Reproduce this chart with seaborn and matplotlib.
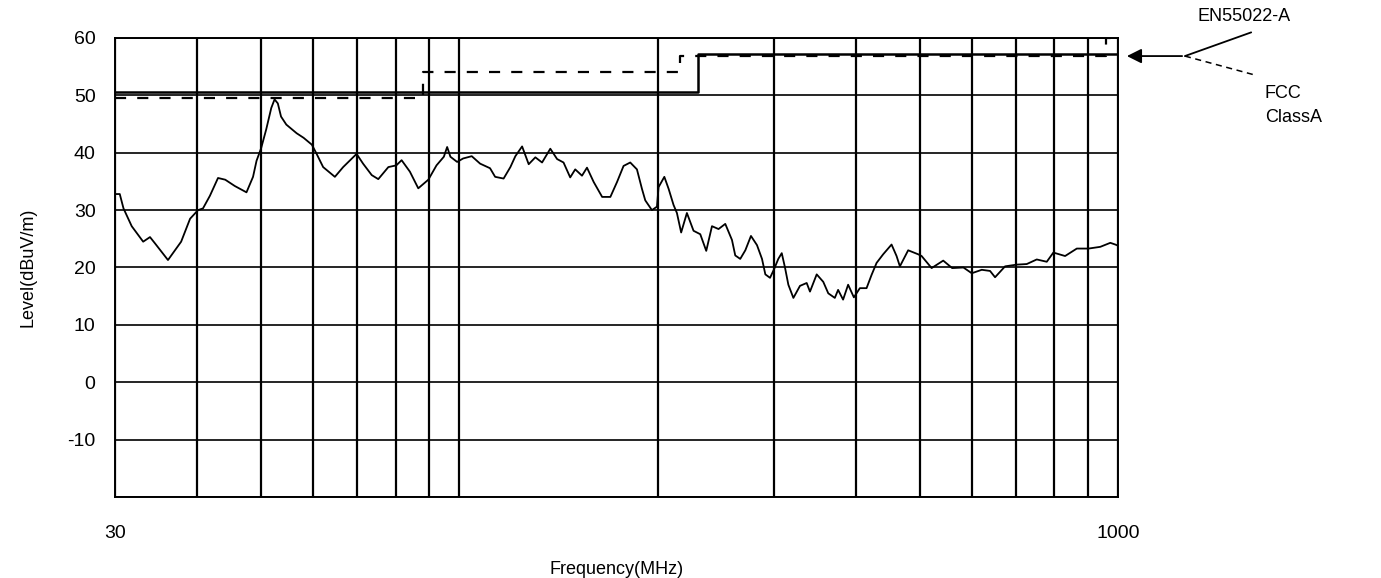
# ============================================================
# Radiated emission scan vs EN55022-A / FCC Class A limits
# ============================================================

import numpy as np
import pandas as pd
import matplotlib
matplotlib.use("Agg")
import matplotlib.pyplot as plt
from matplotlib.lines import Line2D
from matplotlib.ticker import FixedLocator, NullFormatter
import seaborn as sns

# ── 1. Data ──────────────────────────────────────────────────
# Measured trace (MHz, dBuV/m)
scan_freq = [
    30.1, 30.5, 30.9, 31.8, 33.1, 33.9, 34.5, 36.1, 37.8, 39.0,
    40.1, 40.8, 41.8, 43.0, 44.1, 45.6, 47.5, 48.6, 49.2, 50.0,
    50.9, 51.8, 52.4, 53.0, 53.6, 54.6, 56.6, 58.0, 59.7, 60.7,
    62.1, 64.7, 66.6, 69.8, 71.4, 73.6, 75.3, 78.0, 80.2, 81.7,
    84.1, 86.6, 89.7, 92.3, 94.7, 95.8, 96.9, 99.2, 101.3, 104.4,
    107.5, 111.3, 113.3, 116.7, 119.5, 121.6, 124.5, 127.4, 130.4, 133.5,
    137.4, 140.7, 143.9, 147.3, 149.9, 153.5, 156.2, 159.9, 164.7, 169.5,
    173.5, 177.5, 181.7, 186.0, 189.3, 191.5, 196.0, 199.5, 200.6, 204.7,
    207.8, 211.4, 213.9, 217.1, 221.5, 226.7, 232.1, 237.0, 241.8, 247.4,
    253.3, 259.3, 262.3, 266.9, 271.7, 277.1, 283.0, 288.0, 291.4, 296.2,
    300.4, 304.9, 308.6, 312.1, 315.8, 321.4, 328.9, 336.7, 340.6, 348.7,
    356.8, 363.1, 371.5, 375.8, 382.4, 389.2, 397.1, 405.5, 415.1, 422.4,
    429.9, 439.9, 453.0, 461.0, 466.4, 480.1, 497.2, 503.2, 521.1, 542.7,
    559.9, 582.4, 599.6, 621.0, 639.2, 650.5, 673.7, 701.7, 726.7, 752.6,
    779.4, 797.6, 831.0, 865.7, 902.0, 939.7, 973.3, 990.5, 1000.0,
]
scan_level = [
    32.8, 32.8, 30.3, 27.2, 24.5, 25.3, 24.2, 21.3, 24.5, 28.5,
    30.0, 30.3, 32.5, 35.6, 35.3, 34.2, 33.1, 35.8, 38.6, 40.8,
    44.1, 47.8, 49.3, 48.6, 46.3, 44.9, 43.4, 42.6, 41.4, 39.8,
    37.5, 35.8, 37.5, 39.8, 38.1, 36.1, 35.4, 37.5, 37.8, 38.7,
    36.7, 33.8, 35.3, 37.8, 39.3, 41.0, 39.3, 38.4, 39.0, 39.4,
    38.1, 37.3, 35.8, 35.5, 37.5, 39.4, 41.1, 38.0, 39.2, 38.3,
    40.7, 38.9, 38.3, 35.7, 37.1, 36.0, 37.4, 34.9, 32.3, 32.3,
    34.9, 37.7, 38.3, 37.1, 33.7, 31.7, 30.0, 30.6, 34.0, 35.8,
    33.7, 30.9, 29.5, 26.1, 29.5, 26.4, 25.8, 22.9, 27.2, 26.7,
    27.6, 24.8, 22.1, 21.5, 23.0, 25.5, 23.9, 21.5, 18.8, 18.2,
    19.7, 21.5, 22.5, 20.0, 17.0, 14.7, 16.8, 17.3, 15.8, 18.8,
    17.5, 15.5, 14.7, 16.1, 14.4, 17.0, 14.8, 16.4, 16.4, 18.7,
    20.8, 22.3, 24.0, 22.0, 20.2, 23.0, 22.3, 22.0, 19.9, 21.2,
    19.9, 20.0, 19.0, 19.6, 19.4, 18.3, 20.2, 20.5, 20.6, 21.4,
    21.0, 22.6, 22.0, 23.3, 23.3, 23.6, 24.3, 24.0, 23.8,
]

# Limit lines (step breakpoints)
en_freq = [30, 230, 1000]
en_level = [50.5, 57.2, 57.2]
fcc_freq = [30, 88, 216, 960, 1000]
fcc_level = [49.5, 54.0, 56.9, 60.0, 60.0]

# Axis ticks
y_ticks = [-10, 0, 10, 20, 30, 40, 50, 60]
x_labels = [30, 1000]
x_grid = [40, 50, 60, 70, 80, 90, 100, 200, 300, 400, 500, 600, 700, 800, 900]

scan_df = pd.DataFrame({"freq": scan_freq, "level": scan_level})
en_df = pd.DataFrame({"freq": en_freq, "level": en_level})
fcc_df = pd.DataFrame({"freq": fcc_freq, "level": fcc_level})

# ── 2. Style ─────────────────────────────────────────────────
sns.set_style("white")
plt.rcParams["font.family"] = ["Liberation Sans", "DejaVu Sans"]
plt.rcParams["axes.unicode_minus"] = False
plt.rcParams["text.color"] = "black"
plt.rcParams["axes.labelcolor"] = "black"
plt.rcParams["xtick.color"] = "black"
plt.rcParams["ytick.color"] = "black"

fig = plt.figure(figsize=(13.81, 5.78), dpi=100)
ax = fig.add_axes([0.0833, 0.1401, 0.7263, 0.7942])

# ── 3. Traces ────────────────────────────────────────────────
sns.lineplot(data=scan_df, x="freq", y="level", ax=ax, color="black",
             linewidth=1.3, estimator=None, sort=False)
sns.lineplot(data=en_df, x="freq", y="level", ax=ax, color="black",
             linewidth=1.8, drawstyle="steps-post", estimator=None)
sns.lineplot(data=fcc_df, x="freq", y="level", ax=ax, color="black",
             linewidth=1.6, linestyle=(0, (5, 5)), drawstyle="steps-post",
             estimator=None)

# ── 4. Axes, grid ────────────────────────────────────────────
ax.set_xscale("log")
ax.set_xlim(30, 1000)
ax.set_ylim(-20, 60)

ax.set_xticks(x_labels)
ax.set_xticklabels([str(v) for v in x_labels])
ax.xaxis.set_minor_locator(FixedLocator(x_grid))
ax.xaxis.set_minor_formatter(NullFormatter())
ax.set_yticks(y_ticks)
ax.yaxis.set_minor_locator(FixedLocator([-20]))

ax.grid(True, which="both", axis="x", color="black", linewidth=1.6)
ax.grid(True, which="both", axis="y", color="black", linewidth=1.2)
ax.set_axisbelow(True)

ax.tick_params(axis="both", which="both", length=0, labelsize=14,
               labelcolor="black")
ax.tick_params(axis="x", pad=20)
ax.tick_params(axis="y", pad=14)

for side in ax.spines.values():
    side.set_color("black")
    side.set_linewidth(1.4)

ax.set_xlabel("Frequency(MHz)", fontsize=13, labelpad=14)
ax.set_ylabel("Level(dBuV/m)", fontsize=13, labelpad=22)

# ── 5. Legend callout ────────────────────────────────────────
ax.annotate("", xy=(0.8140, 0.903), xytext=(0.858, 0.903),
            xycoords="figure fraction", textcoords="figure fraction",
            arrowprops=dict(arrowstyle="-|>", color="black", lw=1.3,
                            mutation_scale=22))
fig.add_artist(Line2D([0.858, 0.906], [0.903, 0.944],
                      transform=fig.transFigure, color="black", lw=1.3))
fig.add_artist(Line2D([0.858, 0.909], [0.903, 0.870],
                      transform=fig.transFigure, color="black", lw=1.1,
                      linestyle=(0, (4, 3))))
fig.text(0.867, 0.972, "EN55022-A", fontsize=13, ha="left", va="center")
fig.text(0.916, 0.838, "FCC", fontsize=13, ha="left", va="center")
fig.text(0.916, 0.797, "ClassA", fontsize=13, ha="left", va="center")

plt.savefig("out.png", dpi=100)
print("Saved: out.png")
